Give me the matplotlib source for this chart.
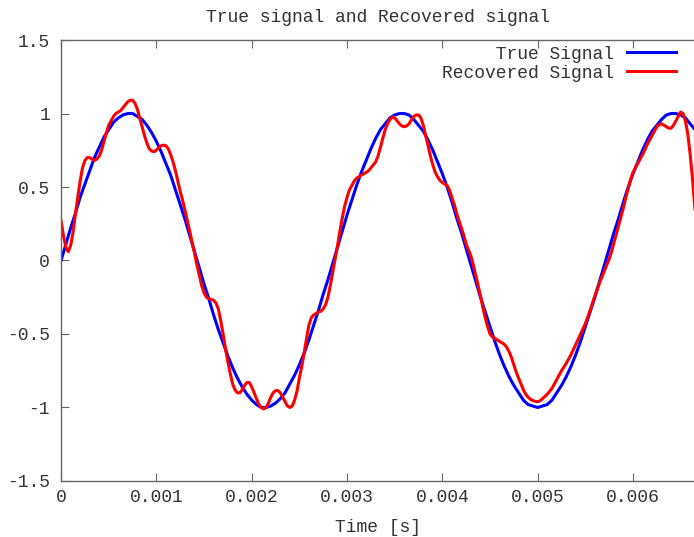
import numpy as np
import matplotlib
matplotlib.use("Agg")
import matplotlib.pyplot as plt

# true signal, sampled every 0.05 ms
true_step = 5e-5
true_signal = [0.00, 0.11, 0.22, 0.32, 0.43, 0.52, 0.61, 0.70, 0.77, 0.84,
               0.89, 0.94, 0.97, 0.99, 1.00, 1.00, 0.98, 0.96, 0.92, 0.87,
               0.81, 0.74, 0.66, 0.58, 0.48, 0.38, 0.28, 0.17, 0.06, -0.05,
               -0.16, -0.26, -0.37, -0.47, -0.56, -0.65, -0.73, -0.80, -0.86, -0.91,
               -0.95, -0.98, -1.00, -1.00, -0.99, -0.97, -0.94, -0.90, -0.84, -0.78,
               -0.71, -0.63, -0.54, -0.44, -0.34, -0.23, -0.13, -0.02, 0.09, 0.20,
               0.31, 0.41, 0.51, 0.60, 0.68, 0.76, 0.83, 0.89, 0.93, 0.97,
               0.99, 1.00, 1.00, 0.99, 0.96, 0.92, 0.88, 0.82, 0.75, 0.67,
               0.59, 0.50, 0.40, 0.29, 0.19, 0.08, -0.03, -0.14, -0.25, -0.35,
               -0.45, -0.55, -0.64, -0.72, -0.79, -0.85, -0.90, -0.95, -0.98, -0.99,
               -1.00, -0.99, -0.98, -0.95, -0.90, -0.85, -0.79, -0.72, -0.64, -0.55,
               -0.45, -0.35, -0.25, -0.14, -0.03, 0.08, 0.19, 0.29, 0.40, 0.50,
               0.59, 0.67, 0.75, 0.82, 0.88, 0.92, 0.96, 0.99, 1.00, 1.00,
               0.99, 0.97, 0.93, 0.89]

# recovered signal, sampled every 0.025 ms
rec_step = 2.5e-5
recovered_signal = [
    0.27, 0.17, 0.09, 0.06, 0.10, 0.19, 0.31, 0.43, 0.54, 0.63,
    0.68, 0.70, 0.70, 0.69, 0.68, 0.69, 0.71, 0.75, 0.81, 0.87,
    0.92, 0.95, 0.98, 1.00, 1.01, 1.02, 1.04, 1.06, 1.08, 1.09,
    1.09, 1.07, 1.03, 0.97, 0.91, 0.85, 0.80, 0.76, 0.745, 0.74,
    0.75, 0.77, 0.78, 0.785, 0.78, 0.76, 0.72, 0.67, 0.61, 0.54,
    0.47, 0.41, 0.34, 0.27, 0.20, 0.12, 0.05, -0.03, -0.10, -0.17,
    -0.22, -0.25, -0.26, -0.265, -0.27, -0.29, -0.33, -0.41, -0.50, -0.60,
    -0.69, -0.77, -0.84, -0.88, -0.90, -0.90, -0.88, -0.85, -0.83, -0.83,
    -0.86, -0.90, -0.94, -0.98, -1.00, -1.01, -1.00, -0.97, -0.93, -0.90,
    -0.885, -0.885, -0.90, -0.93, -0.96, -0.99, -1.00, -0.99, -0.95, -0.89,
    -0.80, -0.72, -0.63, -0.53, -0.44, -0.39, -0.37, -0.36, -0.35, -0.345,
    -0.33, -0.30, -0.25, -0.17, -0.08, 0.01, 0.10, 0.20, 0.29, 0.37,
    0.43, 0.48, 0.51, 0.54, 0.56, 0.57, 0.58, 0.59, 0.60, 0.61,
    0.63, 0.65, 0.67, 0.71, 0.77, 0.83, 0.89, 0.93, 0.96, 0.975,
    0.97, 0.95, 0.93, 0.915, 0.91, 0.915, 0.93, 0.955, 0.98, 0.99,
    0.99, 0.97, 0.92, 0.85, 0.78, 0.71, 0.65, 0.60, 0.57, 0.545,
    0.53, 0.52, 0.51, 0.48, 0.43, 0.38, 0.32, 0.27, 0.22, 0.17,
    0.11, 0.07, 0.03, -0.03, -0.10, -0.17, -0.24, -0.32, -0.39, -0.45,
    -0.50, -0.52, -0.53, -0.54, -0.55, -0.56, -0.57, -0.59, -0.62, -0.66,
    -0.71, -0.76, -0.80, -0.84, -0.88, -0.91, -0.93, -0.945, -0.953, -0.958,
    -0.96, -0.955, -0.94, -0.925, -0.91, -0.89, -0.87, -0.84, -0.81, -0.78,
    -0.75, -0.725, -0.70, -0.67, -0.64, -0.605, -0.57, -0.535, -0.50, -0.465,
    -0.43, -0.385, -0.34, -0.29, -0.24, -0.195, -0.15, -0.11, -0.07, -0.03,
    0.01, 0.06, 0.12, 0.18, 0.24, 0.30, 0.36, 0.43, 0.49, 0.55,
    0.60, 0.63, 0.66, 0.69, 0.72, 0.755, 0.79, 0.82, 0.85, 0.88,
    0.91, 0.925, 0.93, 0.92, 0.91, 0.90, 0.90, 0.92, 0.95, 0.98,
    1.01, 1.00, 0.95, 0.86, 0.72, 0.55, 0.35]

t_true = np.arange(len(true_signal)) * true_step
t_rec = np.arange(len(recovered_signal)) * rec_step

labels = ['True Signal', 'Recovered Signal']
width = max(len(s) for s in labels)
labels = [s.rjust(width) for s in labels]

plt.rcParams['font.family'] = ['Liberation Mono', 'DejaVu Sans Mono']
plt.rcParams['font.size'] = 13
dark = '#333333'
grey = '#666666'

fig = plt.figure(figsize=(6.94, 5.37), dpi=100)
ax = fig.add_axes([0.088, 0.1043, 0.912, 0.8212])

ax.plot(t_true, true_signal, color='#0000ff', lw=2.2, label=labels[0],
        solid_joinstyle='round')
ax.plot(t_rec, recovered_signal, color='#ff0000', lw=2.2, label=labels[1],
        solid_joinstyle='round')

ax.set_xlim(0, 0.00664)
ax.set_ylim(-1.5, 1.5)
ax.set_xticks([0, 0.001, 0.002, 0.003, 0.004, 0.005, 0.006])
ax.set_xticklabels(['0', '0.001', '0.002', '0.003', '0.004', '0.005', '0.006'])
ax.set_yticks([-1.5, -1, -0.5, 0, 0.5, 1, 1.5])
ax.set_yticklabels(['-1.5', '-1', '-0.5', '0', '0.5', '1', '1.5'])

for s in ['left', 'top', 'bottom']:
    ax.spines[s].set_color(grey)
    ax.spines[s].set_linewidth(1.0)
ax.spines['right'].set_visible(False)
ax.tick_params(direction='in', length=6, width=0.8, color=grey, labelcolor=dark,
               top=True, right=False)
ax.tick_params(axis='x', pad=6)
ax.tick_params(axis='y', pad=8)

ax.set_title('True signal and Recovered signal', color=dark, pad=13, fontsize=13)
ax.set_xlabel('Time [s]', color=dark, labelpad=9)

leg = ax.legend(loc='upper right', frameon=False, markerfirst=False,
                handlelength=2.7, handletextpad=0.7, labelspacing=0.12,
                borderaxespad=0.3, bbox_to_anchor=(0.991, 1.016))
for t in leg.get_texts():
    t.set_color(dark)

fig.savefig('out.png', dpi=100)
